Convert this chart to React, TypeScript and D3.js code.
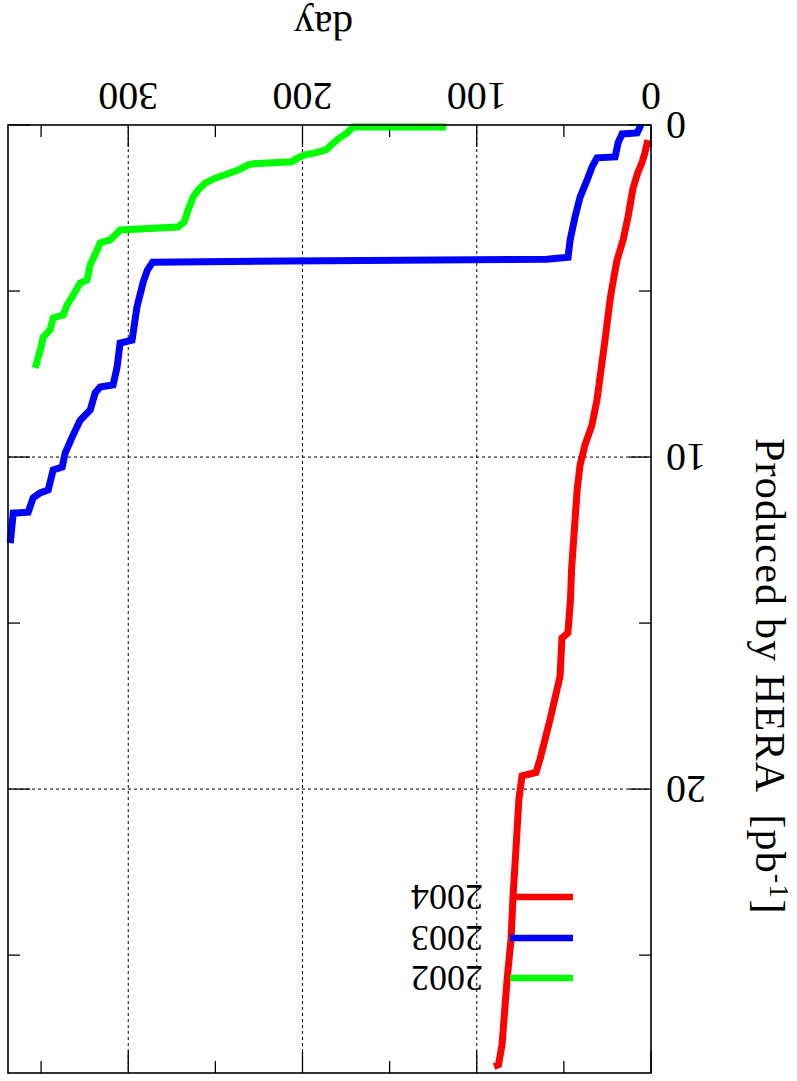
import React from "react";
import * as d3 from "d3";

// ---- data (day of year, integrated luminosity produced by HERA [pb^-1]) ----
const days2004 = [1.8, 3.5, 5.2, 7.5, 10.3, 13.2, 16.0, 19.5, 22.3, 23.5, 26.4, 28.7, 31.0, 33.9, 37.9, 40.7, 42.4, 43.6, 45.6, 46.2, 47.7, 51.1, 52.2, 57.9, 63.7, 66.0, 74.0, 75.8, 77.5, 79.2, 80.3, 82.6, 85.5, 87.5, 90.1];
const lumi2004 = [0.45, 0.84, 1.14, 1.42, 1.9, 2.77, 3.46, 4.07, 4.88, 5.27, 6.48, 7.38, 8.28, 9.04, 9.64, 10.24, 11.0, 11.9, 13.4, 14.3, 15.3, 15.45, 16.6, 17.9, 19.1, 19.5, 19.6, 20.3, 21.8, 23.25, 24.5, 25.75, 27.7, 28.3, 28.35];

const days2003 = [5.8, 8.0, 16.6, 18.9, 20.6, 31.0, 33.9, 36.7, 40.7, 43.6, 46.4, 47.6, 59.7, 286.0, 289.0, 291.4, 295.0, 297.8, 304.7, 306.4, 308.7, 316.1, 319.0, 321.8, 327.6, 332.2, 336.2, 337.9, 343.1, 345.9, 350.6, 354.6, 357.4, 366.0, 367.7];
const lumi2003 = [0.0, 0.24, 0.27, 0.54, 0.96, 0.99, 1.27, 1.66, 2.17, 2.77, 3.46, 3.98, 4.04, 4.13, 4.37, 4.73, 5.48, 6.48, 6.57, 7.29, 7.83, 7.89, 8.07, 8.58, 8.89, 9.4, 9.88, 10.3, 10.39, 10.99, 11.08, 11.23, 11.66, 11.69, 12.59];

const days2002 = [117.6, 171.0, 174.4, 179.6, 186.5, 192.8, 198.5, 203.7, 206.0, 227.8, 231.2, 236.9, 244.4, 250.1, 255.9, 259.9, 262.8, 265.6, 267.9, 271.4, 304.6, 307.5, 310.4, 316.1, 318.4, 321.9, 323.6, 327.6, 332.2, 335.1, 337.3, 343.1, 344.8, 348.8, 350.5, 353.4];
const lumi2002 = [0.06, 0.06, 0.24, 0.42, 0.75, 0.84, 0.9, 1.02, 1.11, 1.17, 1.2, 1.36, 1.5, 1.6, 1.75, 1.96, 2.17, 2.56, 2.92, 3.07, 3.16, 3.31, 3.46, 3.55, 3.83, 4.22, 4.67, 4.76, 5.18, 5.42, 5.72, 5.81, 6.17, 6.39, 6.78, 7.32];

const seriesNames = ["2004", "2003", "2002"];
const seriesColors = ["#ff0000", "#0000ff", "#00ff00"];

const xMajorTicks = [0, 100, 200, 300];
const xMinorTicks = [50, 150, 250, 350];
const yMajorTicks = [0, 10, 20];
const yMinorTicks = [5, 15, 25];

const xLabel = "day";
const yLabelMain = "Produced by HERA  [pb";
const yLabelSup = "-1";
const yLabelEnd = "]";

const FONT = "'Liberation Serif', 'Times New Roman', serif";

export default function App() {
  const W = 797;
  const H = 1081;
  // chart is shown rotated by 180 degrees: day axis runs right-to-left at top,
  // luminosity runs top-to-bottom on the right
  const x = d3.scaleLinear().domain([0, 369]).range([651, 8]);
  const y = d3.scaleLinear().domain([0, 28.55]).range([125, 1073]);
  const [x0, x1] = [x.range()[1], x.range()[0]];
  const [yTop, yBot] = y.range();

  const line = d3
    .line<[number, number]>()
    .x((d) => x(d[0]))
    .y((d) => y(d[1]));

  const series = [
    d3.zip(days2004, lumi2004) as [number, number][],
    d3.zip(days2003, lumi2003) as [number, number][],
    d3.zip(days2002, lumi2002) as [number, number][],
  ];

  const legendY = [897, 938, 978];

  return (
    <svg
      width={W}
      height={H}
      style={{ position: "absolute", left: 0, top: 0, background: "#fff" }}
      fontFamily={FONT}
    >
      <rect x={0} y={0} width={W} height={H} fill="#fff" />
      {/* grid */}
      <g stroke="#000" strokeWidth={1} strokeDasharray="3,3">
        {xMajorTicks
          .filter((v) => v > 0)
          .map((v) => (
            <line key={"gx" + v} x1={x(v)} x2={x(v)} y1={yTop} y2={yBot} />
          ))}
        {yMajorTicks
          .filter((v) => v > 0)
          .map((v) => (
            <line key={"gy" + v} x1={x0} x2={x1} y1={y(v)} y2={y(v)} />
          ))}
      </g>
      {/* ticks */}
      <g stroke="#000" strokeWidth={1.3}>
        {xMajorTicks.map((v) => (
          <g key={"tx" + v}>
            <line x1={x(v)} x2={x(v)} y1={yTop} y2={yTop + 22} />
            <line x1={x(v)} x2={x(v)} y1={yBot} y2={yBot - 22} />
          </g>
        ))}
        {xMinorTicks.map((v) => (
          <g key={"mx" + v}>
            <line x1={x(v)} x2={x(v)} y1={yTop} y2={yTop + 12} />
            <line x1={x(v)} x2={x(v)} y1={yBot} y2={yBot - 12} />
          </g>
        ))}
        {yMajorTicks.map((v) => (
          <g key={"ty" + v}>
            <line x1={x1} x2={x1 - 22} y1={y(v)} y2={y(v)} />
            <line x1={x0} x2={x0 + 22} y1={y(v)} y2={y(v)} />
          </g>
        ))}
        {yMinorTicks.map((v) => (
          <g key={"my" + v}>
            <line x1={x1} x2={x1 - 12} y1={y(v)} y2={y(v)} />
            <line x1={x0} x2={x0 + 12} y1={y(v)} y2={y(v)} />
          </g>
        ))}
      </g>
      {/* curves */}
      {series.map((s, i) => (
        <path
          key={"s" + i}
          d={line(s) || ""}
          fill="none"
          stroke={seriesColors[i]}
          strokeWidth={7}
          strokeLinejoin="miter"
          strokeLinecap="butt"
        />
      ))}
      {/* frame */}
      <rect
        x={x0}
        y={yTop}
        width={x1 - x0}
        height={yBot - yTop}
        fill="none"
        stroke="#000"
        strokeWidth={1.6}
      />
      {/* x tick labels (upside down) */}
      {xMajorTicks.map((v) => (
        <text
          key={"lx" + v}
          transform={`translate(${x(v)},83) rotate(180)`}
          textAnchor="middle"
          fontSize={40}
          fill="#000"
        >
          {v}
        </text>
      ))}
      {/* y tick labels (upside down) */}
      {yMajorTicks.map((v) => (
        <text
          key={"ly" + v}
          transform={`translate(666,${y(v) - 13.5}) rotate(180)`}
          textAnchor="end"
          fontSize={40}
          fill="#000"
        >
          {v}
        </text>
      ))}
      {/* axis titles */}
      <text
        transform={`translate(${(x0 + x1) / 2 - 6},12) rotate(180)`}
        textAnchor="middle"
        fontSize={41}
        fill="#000"
      >
        {xLabel}
      </text>
      <text
        transform={`translate(756,438) rotate(90)`}
        textAnchor="start"
        fontSize={42}
        letterSpacing={1.2}
        fill="#000"
        style={{ whiteSpace: "pre" }}
      >
        {yLabelMain}
        <tspan dy={-14} fontSize={28}>
          {yLabelSup}
        </tspan>
        <tspan dy={14}>{yLabelEnd}</tspan>
      </text>
      {/* legend */}
      {seriesNames.map((n, i) => (
        <g key={"lg" + n}>
          <line
            x1={510}
            x2={573}
            y1={legendY[i]}
            y2={legendY[i]}
            stroke={seriesColors[i]}
            strokeWidth={6.5}
          />
          <text
            transform={`translate(483,${legendY[i] - 12}) rotate(180)`}
            textAnchor="start"
            fontSize={36}
            fill="#000"
          >
            {n}
          </text>
        </g>
      ))}
    </svg>
  );
}
